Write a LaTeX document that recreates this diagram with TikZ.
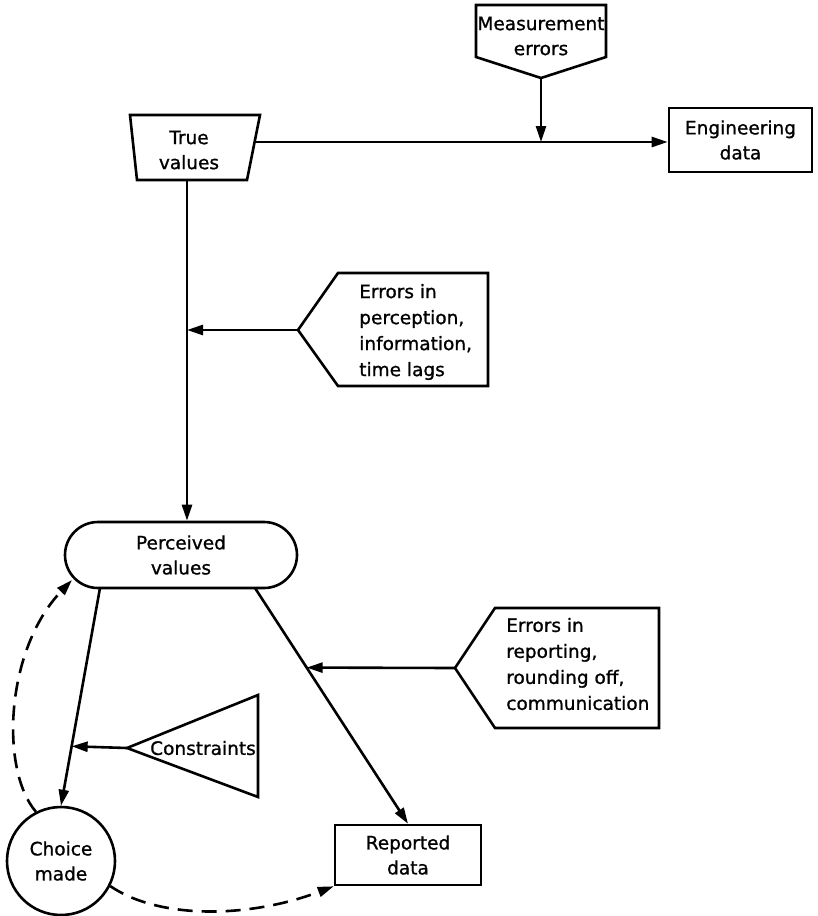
\documentclass[tikz,border=0pt]{standalone}
\usepackage{fontspec}
\setmainfont{DejaVu Sans}
\newfontfamily\lettering{DejaVu Sans}[FakeBold=1]
\usetikzlibrary{arrows.meta,calc}
\begin{document}
\begin{tikzpicture}[x=1pt,y=-1pt,
  line width=2.6pt, line join=miter,
  txt/.style={font=\lettering\fontsize{18.5}{25}\selectfont, align=center, inner sep=0pt},
  ltxt/.style={font=\lettering\fontsize{18.5}{26}\selectfont, align=left, inner sep=0pt, anchor=west},
  arr/.style={-{Triangle[length=16pt,width=10pt]}},
  dsh/.style={dash pattern=on 15pt off 9pt}]
\useasboundingbox (0,0) rectangle (817,916);

% source of measurement errors (pentagon pointing down)
\draw (476,5) -- (606,5) -- (606,57) -- (541,78) -- (476,57) -- cycle;
\coordinate (measTip) at (541,78);
\node[txt] (meas) at (541,36) {Measurement\\errors};

% true values (trapezoid)
\draw (130,115) -- (260,115) -- (247,180) -- (137,180) -- cycle;
\node[txt] (tv) at (189,150) {True\\values};
\coordinate (tvR) at (255,142);
\coordinate (tvB) at (187,180);

% engineering data
\node[draw, txt, minimum width=143pt, minimum height=64pt] (eng) at (740.5,140) {Engineering\\data};

% perception errors (pentagon pointing left)
\draw (298,330) -- (338,273) -- (488,273) -- (488,386) -- (338,386) -- cycle;
\coordinate (percepTip) at (298,330);
\node[ltxt] (percep) at (358,332) {Errors in\\perception,\\information,\\time lags};

% perceived values
\node[draw, txt, rounded corners=33pt, minimum width=232pt, minimum height=66pt] (perc) at (181,555) {Perceived\\values};
\coordinate (pOut1) at (100,588);
\coordinate (pOut2) at (255,588);
\coordinate (percIn) at (72,580);

% reporting errors (pentagon pointing left)
\draw (455,668) -- (495,608) -- (659,608) -- (659,728) -- (495,728) -- cycle;
\coordinate (repTip) at (455,668);
\node[ltxt] (reperr) at (505,664) {Errors in\\reporting,\\rounding off,\\communication};

% constraints (triangle pointing left)
\draw (127,748) -- (258,695) -- (258,797) -- cycle;
\coordinate (conTip) at (127,748);
\node[txt] (con) at (203,748) {Constraints};

% choice made
\node[draw, circle, txt, minimum size=108pt] (choice) at (61,861) {Choice\\made};

% reported data
\node[draw, txt, minimum width=146pt, minimum height=60pt] (rep) at (408,855) {Reported\\data};

% connectors
\draw[arr] (tvR) -- (eng.west |- tvR);
\draw[arr] (measTip) -- (measTip |- tvR);
\draw[arr] (tvB) -- (tvB |- perc.north);
\draw[arr] (percepTip) -- (tvB |- percepTip);

\draw[arr] (pOut1) -- (choice.north);
\coordinate (onLeft) at ($(pOut1)!0.727!(choice.north)$);
\draw[arr] (conTip) -- (onLeft);

\draw[arr] (pOut2) -- (rep.north);
\coordinate (onDiag) at ($(pOut2)!0.3376!(rep.north)$);
\draw[arr] (repTip) -- (onDiag);

\draw[arr, dsh] (choice.117) .. controls (0,770) and (5,650) .. (percIn);
\draw[arr, dsh] (choice.-27) .. controls (160,920) and (250,918) .. (rep.south west);
\end{tikzpicture}
\end{document}
